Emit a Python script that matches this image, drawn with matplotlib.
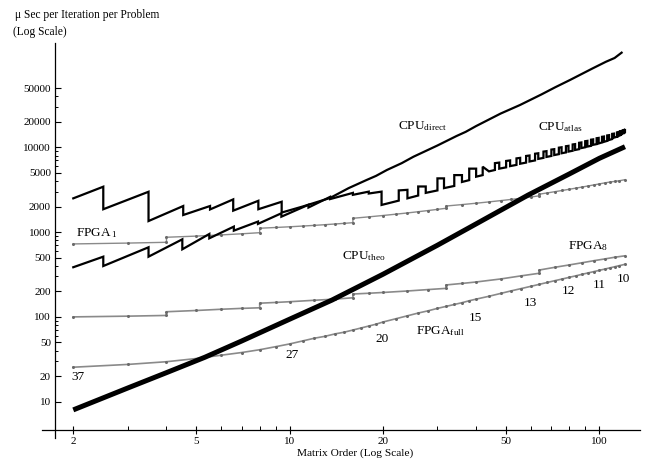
import matplotlib
matplotlib.use("Agg")
import matplotlib.pyplot as plt
from matplotlib.ticker import FixedLocator, NullFormatter, FixedFormatter

plt.rcParams['font.family'] = ['Liberation Serif', 'DejaVu Serif']
plt.rcParams['mathtext.fontset'] = 'custom'
plt.rcParams['mathtext.rm'] = 'Liberation Serif'
plt.rcParams['mathtext.it'] = 'Liberation Serif:italic'

# ---------------- data ----------------
theo_n = [2, 3, 4, 5.32, 7, 10, 13.7, 20, 30, 40, 58.9, 80, 100, 121]
theo_v = [8.0, 14.5, 22, 33.4, 52, 94, 158, 318, 700, 1250, 2735, 4850, 7410, 10160]

direct_n = [2, 2.5, 2.5, 3.5, 3.5, 4.53, 4.53, 5.53, 5.53, 6.57, 6.57, 7.92, 7.92, 9.42, 9.42,
            11, 13.5, 15.5, 17.7, 19, 20.6, 23, 25.1, 30, 34.6, 37, 40, 48, 55.4, 65, 72, 80.4, 95, 105, 112, 118]
direct_v = [2500, 3430, 1860, 2990, 1350, 2030, 1590, 2030, 1850, 2430, 1790, 2340, 1860, 2280, 1700,
            2000, 2525, 3300, 4110, 4600, 5400, 6500, 7740, 10500, 13600, 15200, 17800, 25000, 31500, 42000,
            51000, 62200, 85000, 102000, 113000, 130600]

atlas_n = [2, 2.5, 2.5, 3.5, 3.5, 4.5, 4.5, 5.5, 5.5, 6.6, 6.6, 7.9, 7.9, 9.4, 9.4,
           11.5, 11.5, 13.5, 13.5, 16, 16, 18, 18, 19.8, 19.8,
           22.5, 22.5, 24, 24, 26, 26, 27.5, 27.5, 30, 30, 31.5, 31.5, 34, 34, 36, 36,
           38, 38, 40, 40, 42, 42, 44,
           46, 46, 47.5, 47.5, 50, 50, 51.5, 51.5, 54, 54, 55.5, 55.5, 58, 58, 59.5, 59.5,
           62, 62, 63.5, 63.5, 66, 66, 67.5, 67.5, 70, 70, 71.5, 71.5, 74, 74, 75.5, 75.5,
           78, 78, 79.5, 79.5, 82, 82, 83.5, 83.5, 86, 86, 87.5, 87.5, 90, 90, 91.5, 91.5,
           94, 94, 95.5, 95.5, 98, 98, 99.5, 99.5, 102, 102, 103.5, 103.5, 106, 106, 107.5, 107.5,
           110, 110, 111.5, 111.5, 114, 114, 115.5, 115.5, 117, 117, 118, 118, 119, 119, 120, 120, 121, 121]
atlas_v = [385, 513, 398, 662, 513, 822, 627, 950, 845, 1160, 1040, 1330, 1250, 1667, 1520,
           2100, 1950, 2600, 2450, 2900, 2750, 3000, 2850, 3000, 2090,
           2350, 3100, 3150, 2500, 2700, 3450, 3450, 2900, 3100, 4300, 4300, 3300, 3500, 4700, 4700, 3900,
           4100, 5600, 5600, 4500, 4700, 5900, 5200,
           5400, 6500, 6600, 5600, 5800, 6900, 7000, 6000, 6200, 7400, 7500, 6400, 6600, 7900, 8000, 6800,
           7000, 8400, 8500, 7300, 7500, 8900, 9000, 7700, 7900, 9400, 9500, 8100, 8300, 9900, 10000, 8500,
           8700, 10300, 10400, 8900, 9100, 10800, 10900, 9300, 9500, 11300, 11400, 9800, 10000, 11800, 11900, 10200,
           10400, 12300, 12400, 10700, 10900, 12800, 12900, 11100, 11400, 13300, 13400, 11600, 11900, 13800, 13900, 12200,
           12500, 14400, 14500, 13000, 13300, 15000, 15200, 13600, 14000, 15500, 15600, 14200, 14500, 15800, 16000, 14500, 15000, 16000]

fpga1_n = [2, 3, 4, 4, 5, 6, 7, 8, 8, 9, 10, 11, 12, 13, 14, 15, 16, 16, 18, 20, 22, 24, 26, 28, 30, 32, 32,
           36, 40, 44, 48, 52, 56, 60, 64, 64, 68, 72, 76, 80, 84, 88, 92, 96, 100, 104, 108, 112, 116, 121]
fpga1_v = [725, 742, 758, 869, 897, 926, 955, 984, 1110, 1133, 1155, 1178, 1200, 1223, 1246, 1268, 1291, 1455,
           1512, 1569, 1626, 1682, 1739, 1796, 1853, 1910, 2030, 2110, 2190, 2270, 2350, 2430, 2510, 2590, 2680, 2800,
           2900, 3000, 3100, 3200, 3300, 3400, 3500, 3600, 3700, 3800, 3890, 3960, 4030, 4150]

fpga8_n = [2, 3, 4, 4, 5, 6, 7, 8, 8, 9, 10, 12, 14, 16, 16, 18, 20, 24, 28, 32, 32, 36, 40, 48, 56, 64, 64,
           72, 80, 88, 96, 104, 112, 121]
fpga8_v = [100, 102, 104, 115, 119, 123, 126, 128, 145, 148, 151, 157, 162, 168, 186, 190, 194, 202, 210, 217, 238,
           248, 258, 280, 305, 327, 357, 385, 410, 435, 460, 482, 505, 525]

full_n = [2, 3, 4, 5, 6, 7, 8, 9, 10, 11, 12, 13, 14, 15, 16, 17, 18, 19, 20, 22, 24, 26, 28, 30, 32, 34, 36, 38, 40,
          44, 48, 52, 56, 60, 64, 68, 72, 76, 80, 84, 88, 92, 96, 100, 104, 108, 112, 116, 121]
full_v = [25.5, 27.5, 29.6, 32.3, 35.3, 38, 41, 44.5, 48, 52, 56, 59, 63, 66, 70, 74, 78, 82, 87, 95, 103, 111, 118,
          126, 133, 140, 147, 155, 162, 175, 189, 203, 216, 229, 242, 255, 268, 280, 293, 305, 318, 330, 342, 354,
          366, 378, 390, 402, 417]

full_labels = ['37', '27', '20', '15', '13', '12', '11', '10']

x_major = [2, 5, 10, 20, 50, 100]
x_minor = [3, 4, 6, 7, 8, 9, 30, 40, 60, 70, 80, 90]
y_major = [10, 20, 50, 100, 200, 500, 1000, 2000, 5000, 10000, 20000, 50000]
y_minor = [30, 40, 60, 70, 80, 90, 300, 400, 600, 700, 800, 900, 3000, 4000, 6000, 7000, 8000, 9000,
           30000, 40000]

# ---------------- figure ----------------
W, H = 646, 462
fig = plt.figure(figsize=(W / 100, H / 100), dpi=100)
ax = fig.add_axes([42 / W, (H - 438) / H, 598 / W, 395 / H])
ax.set_xscale('log')
ax.set_yscale('log')
ax.set_xlim(1.585, 135.3)
ax.set_ylim(3.73, 169800)

for s in ['top', 'right']:
    ax.spines[s].set_visible(False)
ax.spines['left'].set_position(('data', 1.746))
ax.spines['bottom'].set_position(('data', 4.64))
for s in ['left', 'bottom']:
    ax.spines[s].set_linewidth(0.9)

ax.xaxis.set_major_locator(FixedLocator(x_major))
ax.xaxis.set_major_formatter(FixedFormatter([str(v) for v in x_major]))
ax.xaxis.set_minor_locator(FixedLocator(x_minor))
ax.xaxis.set_minor_formatter(NullFormatter())
ax.yaxis.set_major_locator(FixedLocator(y_major))
ax.yaxis.set_major_formatter(FixedFormatter([str(v) for v in y_major]))
ax.yaxis.set_minor_locator(FixedLocator(y_minor))
ax.yaxis.set_minor_formatter(NullFormatter())
ax.tick_params(axis='x', which='major', direction='inout', length=6, width=0.8, labelsize=8, pad=2)
ax.tick_params(axis='x', which='minor', direction='in', length=3, width=0.7)
ax.tick_params(axis='y', which='major', direction='in', length=4, width=0.8, labelsize=8, pad=3)
ax.tick_params(axis='y', which='minor', direction='in', length=2.5, width=0.7)

gray = '#8a8a8a'
mk = dict(marker='.', markersize=2.4, markerfacecolor='#6a6a6a', markeredgecolor='#6a6a6a')
ax.plot(fpga1_n, fpga1_v, color=gray, lw=1.0, **mk)
ax.plot(fpga8_n, fpga8_v, color=gray, lw=1.2, **mk)
ax.plot(full_n, full_v, color=gray, lw=1.2, **mk)
ax.plot(direct_n, direct_v, color='black', lw=1.6, solid_joinstyle='miter')
ax.plot(atlas_n, atlas_v, color='black', lw=1.6, solid_joinstyle='miter')
ax.plot(theo_n, theo_v, color='black', lw=3.6, solid_capstyle='butt')

def P(x, y):
    return (x / W, 1 - y / H)

kw = dict(transform=fig.transFigure, color='black')
fig.text(*P(15, 15), 'μ Sec per Iteration per Problem', fontsize=8.3, ha='left', va='center', **kw)
fig.text(*P(13, 32), '(Log Scale)', fontsize=8.3, ha='left', va='center', **kw)
fig.text(*P(355, 453), 'Matrix Order (Log Scale)', fontsize=8.2, ha='center', va='center', **kw)

fig.text(*P(398, 129.5), r'CPU$_{\rm direct}$', fontsize=9.5, ha='left', va='baseline', **kw)
fig.text(*P(538, 130.7), r'CPU$_{\rm atlas}$', fontsize=9.5, ha='left', va='baseline', **kw)
fig.text(*P(341.5, 259.3), r'CPU$_{\rm theo}$', fontsize=9.5, ha='left', va='baseline', **kw)
fig.text(*P(76.5, 236), r'FPGA$\,_{1}$', fontsize=9.5, ha='left', va='baseline', **kw)
fig.text(*P(568, 249.3), r'FPGA$_{8}$', fontsize=9.5, ha='left', va='baseline', **kw)
fig.text(*P(416.5, 334), r'FPGA$_{\rm full}$', fontsize=9.5, ha='left', va='baseline', **kw)

lab_pos = [(77.5, 377.5), (292.5, 355), (381.7, 338.7), (475.5, 318), (530.3, 302.8),
           (568.3, 291.3), (599, 284.7), (623.3, 278.7)]
for t, (x, y) in zip(full_labels, lab_pos):
    fig.text(*P(x, y), t, fontsize=9.5, ha='center', va='center', **kw)

fig.savefig('out.png', dpi=100)
